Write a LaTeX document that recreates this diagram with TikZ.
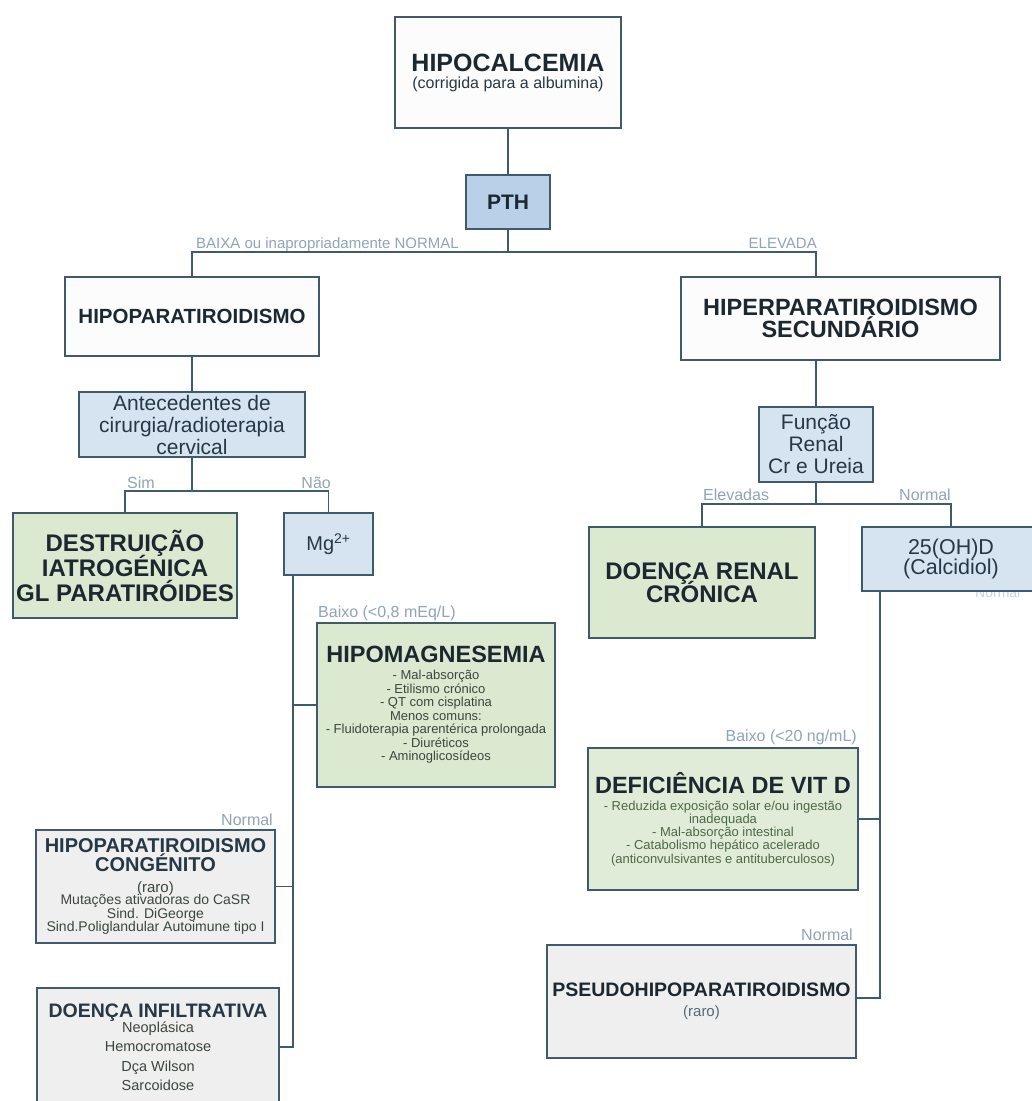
\documentclass[tikz,border=0pt]{standalone}
\usepackage{fontspec}
\setmainfont{Liberation Sans}
\usetikzlibrary{calc}

\newcommand{\fsz}[2]{\fontsize{#1}{#2}\selectfont}
% centred block of lines; every line keeps the font set before it
\newcommand{\boxtext}[2]{\parbox{#1}{\centering\parskip=0pt\lineskiplimit=-40pt\relax #2}}

\definecolor{edge}{HTML}{3E5A6B}
\definecolor{lbl}{HTML}{8FA4B8}
\definecolor{faintlbl}{HTML}{C9D3DD}
\definecolor{ink}{HTML}{1C2830}
\definecolor{bluink}{HTML}{263846}
\definecolor{soft}{HTML}{3A473C}
\definecolor{greensoft}{HTML}{4C6846}
\definecolor{rarocol}{HTML}{55697A}
\definecolor{bluefill}{HTML}{D6E4F2}
\definecolor{pthfill}{HTML}{B9D0E9}
\definecolor{greenfill}{HTML}{DCE9D1}
\definecolor{greenlight}{HTML}{E1ECD8}
\definecolor{greyfill}{HTML}{EFEFEF}
\definecolor{whitefill}{HTML}{FCFCFC}

\tikzset{
  box/.style={draw=edge, line width=2pt, rectangle, inner sep=0pt, text=ink},
  dims/.style 2 args={minimum width=#1, minimum height=#2},
  conn/.style={draw=edge, line width=1.8pt},
  lab/.style={text=lbl, inner sep=0pt, font=\fsz{15}{17}},
  labm/.style={text=lbl, inner sep=0pt, font=\fsz{16}{18}},
}

\begin{document}
\begin{tikzpicture}[x=1pt, y=-1pt]
\useasboundingbox (0,0) rectangle (1032,1101);
\fill[white] (0,0) rectangle (1032,1101);

% ---------- top level ----------
\node[box, dims={226pt}{111pt}, fill=whitefill] (hipocal) at (508,72.5)
  {\boxtext{220pt}{\fsz{25}{28}\bfseries HIPOCALCEMIA\\
   \fsz{16}{17}\mdseries\color{bluink}(corrigida para a albumina)}};

\node[box, dims={84pt}{54pt}, fill=pthfill] (pth) at (508,202)
  {\fsz{21}{24}\bfseries PTH};

\node[lab, anchor=base west] (lbBaixa) at (196,248) {BAIXA ou inapropriadamente NORMAL};
\node[lab, anchor=base east] (lbEleva) at (817,248) {ELEVADA};

\node[box, dims={254pt}{79pt}, fill=whitefill] (hipopara) at (192,316.5)
  {\fsz{20.5}{22}\bfseries HIPOPARATIROIDISMO};

\node[box, dims={319pt}{83pt}, fill=whitefill] (hiperpara) at (840.5,318.5)
  {\boxtext{314pt}{\fsz{23.5}{22}\bfseries HIPERPARATIROIDISMO\\SECUNDÁRIO}};

% ---------- left branch ----------
\node[box, dims={226pt}{65pt}, fill=bluefill, text=bluink] (antec) at (192,424.5)
  {\boxtext{222pt}{\fsz{21}{22}Antecedentes de\\cirurgia/radioterapia\\cervical}};

\node[labm, anchor=base west] (lbSim) at (127,488) {Sim};
\node[labm, anchor=base east] (lbNao) at (331,488) {Não};

\node[box, dims={224pt}{105pt}, fill=greenfill] (destr) at (125,565.5)
  {\boxtext{222pt}{\fsz{24}{25}\bfseries DESTRUIÇÃO\\IATROGÉNICA\\GL PARATIRÓIDES}};

\node[box, dims={89pt}{62pt}, fill=bluefill, text=bluink] (mg) at (328.5,544)
  {\fsz{20}{22}Mg\textsuperscript{2+}};

\node[labm, anchor=base west] (lbMgLow) at (318,617) {Baixo (<0,8 mEq/L)};

\node[box, dims={238pt}{164pt}, fill=greenfill] (hipomag) at (436,705)
  {\boxtext{234pt}{\fsz{23.5}{26}\bfseries HIPOMAGNESEMIA\\
   \fsz{13}{17}\mdseries\color{soft}- Mal-absorção\\
   \fsz{13}{13.5}- Etilismo crónico\\
   - QT com cisplatina\\
   Menos comuns:\\
   - Fluidoterapia parentérica prolongada\\
   - Diuréticos\\
   - Aminoglicosídeos}};

\node[labm, anchor=base east] (lbMgNorm) at (273,825) {Normal};

\node[box, dims={239pt}{113pt}, fill=greyfill, text=bluink] (congen) at (155.5,886.5)
  {\boxtext{235pt}{\fsz{20}{19}\bfseries HIPOPARATIROIDISMO\\
   CONGÉNITO\\
   \fsz{15}{21}\mdseries\color{soft}(raro)\\
   \fsz{14}{12.5}Mutações ativadoras do CaSR\\
   \fsz{14}{13.5}Sind. DiGeorge\\
   Sind.Poliglandular Autoimune tipo I}};

\node[box, dims={242pt}{118pt}, fill=greyfill, text=bluink] (infilt) at (158,1047)
  {\boxtext{238pt}{\fsz{19.5}{20}\bfseries DOENÇA INFILTRATIVA\\
   \fsz{14.5}{15.5}\mdseries\color{soft}Neoplásica\\
   \fsz{14.5}{19.2}Hemocromatose\\
   Dça Wilson\\
   Sarcoidose}};

% ---------- right branch ----------
\node[box, dims={114pt}{75pt}, fill=bluefill, text=bluink] (funcao) at (816,444.5)
  {\boxtext{110pt}{\fsz{21}{22}Função\\Renal\\Cr e Ureia}};

\node[labm, anchor=base west] (lbElev) at (703,500) {Elevadas};
\node[labm, anchor=base east] (lbRenNorm) at (951,500) {Normal};

\node[box, dims={226pt}{111pt}, fill=greenfill] (renal) at (702,582.5)
  {\boxtext{222pt}{\fsz{24}{23}\bfseries DOENÇA RENAL\\CRÓNICA}};

\node[text=faintlbl, inner sep=0pt, font=\fsz{14}{16}, anchor=base west] (lbFaint) at (975,597) {Normal};

\node[box, dims={178pt}{64pt}, fill=bluefill, text=bluink] (oh) at (951,559)
  {\boxtext{174pt}{\fsz{21.5}{20.5}25(OH)D\\(Calcidiol)}};

\node[labm, anchor=base east] (lbVitLow) at (857,741) {Baixo (<20 ng/mL)};

\node[box, dims={270pt}{142pt}, fill=greenlight] (vitd) at (723,819)
  {\boxtext{266pt}{\fsz{23.5}{24}\bfseries DEFICIÊNCIA DE VIT D\\
   \fsz{13}{17}\mdseries\color{greensoft}- Reduzida exposição solar e/ou ingestão\\
   \fsz{13}{13.2}inadequada\\
   - Mal-absorção intestinal\\
   - Catabolismo hepático acelerado\\
   (anticonvulsivantes e antituberculosos)}};

\node[labm, anchor=base east] (lbVitNorm) at (853,940) {Normal};

\node[box, dims={309pt}{113pt}, fill=greyfill] (pseudo) at (701.5,1001.5)
  {\boxtext{305pt}{\fsz{19.5}{22}\bfseries PSEUDOHIPOPARATIROIDISMO\\
   \fsz{15}{20}\mdseries\color{rarocol}(raro)}};

% ---------- connectors ----------
\coordinate (busTop) at (508,252);
\coordinate (hiperIn) at (816,277);
\draw[conn] (hipocal.south) -- (pth.north);
\draw[conn] (pth.south) -- (busTop);
\draw[conn] (busTop) -| (hipopara.north);
\draw[conn] (busTop) -| (hiperIn);

\coordinate (busL) at (192,491);
\draw[conn] (hipopara.south) -- (antec.north);
\draw[conn] (antec.south) -- (busL);
\draw[conn] (busL) -| (destr.north);
\draw[conn] (busL) -| (mg.north);

\coordinate (spineL) at (293,0);
\draw[conn] (mg.south -| spineL) -- (spineL |- infilt.east) -- (infilt.east);
\draw[conn] (spineL |- hipomag.west) -- (hipomag.west);
\draw[conn] (spineL |- congen.east) -- (congen.east);

\coordinate (busR) at (816,504);
\draw[conn] (hiperpara.south -| funcao.north) -- (funcao.north);
\draw[conn] (funcao.south) -- (busR);
\draw[conn] (busR) -| (renal.north);
\draw[conn] (busR) -| (oh.north);

\coordinate (spineR) at (880,0);
\coordinate (pseudoJ) at (880,998);
\draw[conn] (oh.south -| spineR) -- (pseudoJ) -- (pseudoJ -| pseudo.east);
\draw[conn] (spineR |- vitd.east) -- (vitd.east);
\end{tikzpicture}
\end{document}
